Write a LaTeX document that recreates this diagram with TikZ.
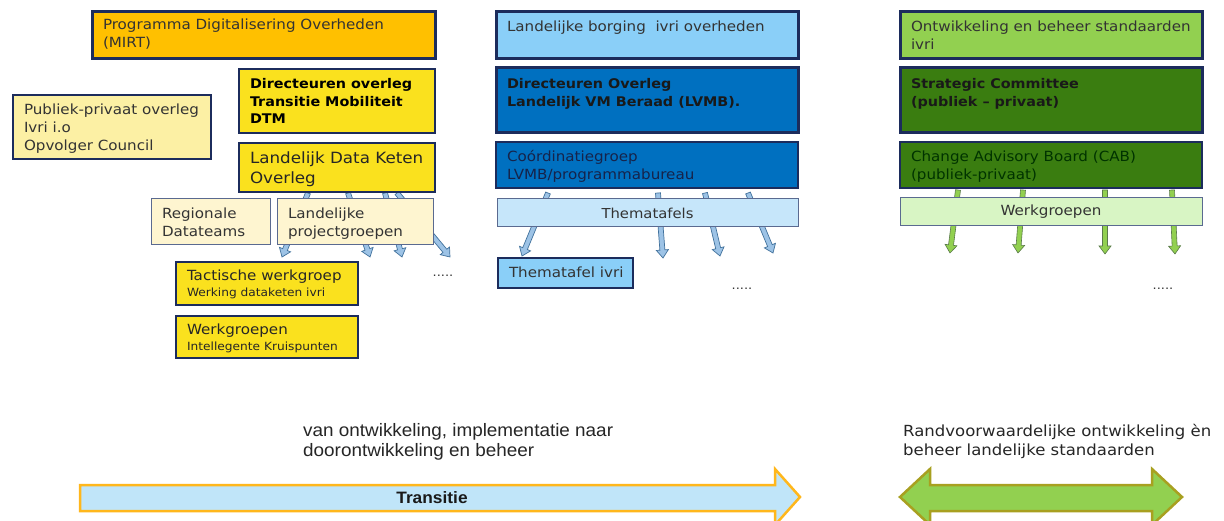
\documentclass[tikz,border=0pt]{standalone}
\usepackage{fontspec}
\setmainfont[FakeStretch=1.08]{DejaVu Sans}
\newfontfamily\tahoma[FakeStretch=1.05]{Liberation Sans}
\usetikzlibrary{calc}
\definecolor{navy}{HTML}{1C2C5C}
\definecolor{orangefill}{HTML}{FFC000}
\definecolor{yel}{HTML}{FAE11E}
\definecolor{lightyel}{HTML}{FCF0A4}
\definecolor{cream}{HTML}{FEF5D0}
\definecolor{sky}{HTML}{8ACFF8}
\definecolor{blueone}{HTML}{0070C0}
\definecolor{paleblue}{HTML}{C6E6FA}
\definecolor{lgreen}{HTML}{92D050}
\definecolor{dgreen}{HTML}{3A7D10}
\definecolor{palegreen}{HTML}{D8F5C4}
\definecolor{txt}{HTML}{333333}
\definecolor{grayblue}{HTML}{5A6A90}
\definecolor{arrblue}{HTML}{9DC3E6}
\definecolor{arrblueline}{HTML}{41719C}
\definecolor{arrgreenline}{HTML}{5A7A4A}
\definecolor{transfill}{HTML}{C0E5F9}
\definecolor{transline}{HTML}{FFB71C}
\definecolor{olive}{HTML}{A8A020}
% #1 width, #2 height, #3 first baseline, #4 text
\newcommand\bt[4]{\parbox[c][#2pt][t]{\dimexpr#1pt-22pt\relax}{\raggedright\rule{0pt}{#3pt}#4}}
\newcommand\blockarrow[3]{%
  \coordinate (ah) at ($(#2)!8pt!(#1)$);
  \filldraw[#3] ($(#1)!2.5pt!90:(#2)$) -- ($(ah)!2.5pt!90:(#2)$) -- ($(ah)!6pt!90:(#2)$) -- (#2)
     -- ($(ah)!6pt!-90:(#2)$) -- ($(ah)!2.5pt!-90:(#2)$) -- ($(#1)!2.5pt!-90:(#2)$) -- cycle;}
\tikzset{
  box/.style={draw=navy, anchor=north west, inner xsep=11pt, inner ysep=0pt, outer sep=0pt, text=txt},
  thickbox/.style={box, line width=3pt},
  thinbox/.style={box, line width=1.5pt},
  hairbox/.style={box, draw=grayblue, line width=1pt},
  fs/.style={font=\fontsize{14}{18}\selectfont},
  fb/.style={font=\fontsize{13.3}{17.5}\selectfont\bfseries},
  barrow/.style={fill=arrblue, draw=arrblueline, line width=0.7pt},
  garrow/.style={fill=lgreen, draw=arrgreenline, line width=0.6pt},
  dots/.style={font=\fontsize{12}{14}\selectfont, text=txt},
}
\begin{document}
\begin{tikzpicture}[x=1pt,y=-1pt]
\useasboundingbox[fill=white] (0,0) rectangle (1224,521);

% ---- arrows (behind boxes) ----
\coordinate (l1s) at (308,193); \coordinate (l1e) at (282,257);
\coordinate (l2s) at (348,193); \coordinate (l2e) at (370,257);
\coordinate (l3s) at (385,193); \coordinate (l3e) at (402,257);
\coordinate (l4s) at (397,193); \coordinate (l4e) at (450,257);
\blockarrow{l1s}{l1e}{barrow}
\blockarrow{l2s}{l2e}{barrow}
\blockarrow{l3s}{l3e}{barrow}
\blockarrow{l4s}{l4e}{barrow}
\coordinate (m1s) at (548,193); \coordinate (m1e) at (522,256);
\coordinate (m2s) at (658,193); \coordinate (m2e) at (663,258);
\coordinate (m3s) at (705,193); \coordinate (m3e) at (720,256);
\coordinate (m4s) at (748,193); \coordinate (m4e) at (773,253);
\blockarrow{m1s}{m1e}{barrow}
\blockarrow{m2s}{m2e}{barrow}
\blockarrow{m3s}{m3e}{barrow}
\blockarrow{m4s}{m4e}{barrow}
\coordinate (r1s) at (958,190); \coordinate (r1e) at (950,253);
\coordinate (r2s) at (1023,190); \coordinate (r2e) at (1018,253);
\coordinate (r3s) at (1105,190); \coordinate (r3e) at (1105,254);
\coordinate (r4s) at (1172,190); \coordinate (r4e) at (1175,254);
\blockarrow{r1s}{r1e}{garrow}
\blockarrow{r2s}{r2e}{garrow}
\blockarrow{r3s}{r3e}{garrow}
\blockarrow{r4s}{r4e}{garrow}

% ---- left column ----
\node[thickbox, fill=orangefill, fs, text=black!80] (prog) at (92,12) {\bt{343}{47}{18}{Programma Digitalisering Overheden\\(MIRT)}};
\node[thinbox, line width=2pt, fill=yel, fb, text=black] (dtm) at (239,69) {\bt{196}{64}{20}{Directeuren overleg\\Transitie Mobiliteit\\DTM}};
\node[thinbox, line width=2pt, fill=yel, font=\fontsize{15.5}{20}\selectfont, text=black!85] (ldko) at (239,143) {\bt{196}{49}{21}{Landelijk Data Keten\\Overleg}};
\node[thinbox, fill=lightyel, fs] (pub) at (13,95) {\bt{198}{64}{20}{Publiek-privaat overleg\\Ivri i.o\\Opvolger Council}};
\node[hairbox, fill=cream, fs] (reg) at (151,199) {\bt{119}{46}{20}{Regionale\\Datateams}};
\node[hairbox, fill=cream, fs] (lpg) at (277,199) {\bt{156}{46}{20}{Landelijke\\projectgroepen}};
\node[thinbox, fill=yel, text=black!85] (tac) at (176,262) {\bt{182}{43}{19}{{\fontsize{14}{16}\selectfont Tactische werkgroep\par}{\fontsize{11.3}{16}\selectfont Werking dataketen ivri\par}}};
\node[thinbox, fill=yel, text=black!85] (wg) at (176,316) {\bt{182}{42}{19}{{\fontsize{14}{16}\selectfont Werkgroepen\par}{\fontsize{11.3}{16}\selectfont Intellegente Kruispunten\par}}};
\node[dots] (ld) at (443,276) {.....};

% ---- middle column ----
\node[thickbox, fill=sky, fs] (lbo) at (496,12) {\bt{302}{47}{20}{Landelijke borging\ \ ivri overheden}};
\node[thickbox, fill=blueone, fb, text=black!90] (dol) at (496,68) {\bt{302}{65}{21}{Directeuren Overleg\\Landelijk VM Beraad (LVMB).}};
\node[thinbox, fill=blueone, fs, text=navy!80!black] (cg) at (496,142) {\bt{302}{46}{20}{Coórdinatiegroep\\LVMB/programmabureau}};
\node[hairbox, fill=paleblue, font=\fontsize{13.7}{18}\selectfont, anchor=center, minimum width=301pt, minimum height=28pt] (tt) at (647.5,213) {Thematafels};
\node[thinbox, fill=sky, fs] (tti) at (498,258) {\bt{135}{30}{20}{\mbox{Thematafel ivri}}};
\node[dots] (md) at (742,289) {.....};

% ---- right column ----
\node[thickbox, fill=lgreen, fs] (ont) at (900,12) {\bt{302}{47}{20}{Ontwikkeling en beheer standaarden\\ivri}};
\node[thickbox, fill=dgreen, fb, text=black!90] (sc) at (900,68) {\bt{302}{65}{21}{Strategic Committee\\(publiek -- privaat)}};
\node[thinbox, fill=dgreen, fs, text=black!80!green] (cab) at (900,142) {\bt{302}{46}{20}{Change Advisory Board (CAB)\\(publiek-privaat)}};
\node[hairbox, fill=palegreen, fs, anchor=center, minimum width=302pt, minimum height=28pt] (wgr) at (1051,212) {Werkgroepen};
\node[dots] (rd) at (1163,289) {.....};

% ---- bottom ----
\node[anchor=north west, align=left, inner sep=0pt, font=\tahoma\fontsize{18}{20}\selectfont, text=black!85] (vtxt) at (303,423) {van ontwikkeling, implementatie naar\\doorontwikkeling en beheer};
\node[anchor=north west, align=left, inner sep=0pt, font=\fontsize{15.3}{19.5}\selectfont, text=black!85] (rtxt) at (903,424) {Randvoorwaardelijke ontwikkeling èn\\beheer landelijke standaarden};

\filldraw[fill=transfill, draw=transline, line width=2.5pt, line join=miter]
  (80,485) -- (775,485) -- (775,469) -- (800,497) -- (775,525) -- (775,511) -- (80,511) -- cycle;
\node[font=\tahoma\bfseries\fontsize{16.5}{18}\selectfont, text=black!90] (trans) at (432,498) {Transitie};

\filldraw[fill=lgreen, draw=olive, line width=2.5pt, line join=miter]
  (900,497) -- (930,469) -- (930,485) -- (1152,485) -- (1152,469) -- (1182,497) -- (1152,525) -- (1152,511) -- (930,511) -- (930,525) -- cycle;
\end{tikzpicture}
\end{document}
